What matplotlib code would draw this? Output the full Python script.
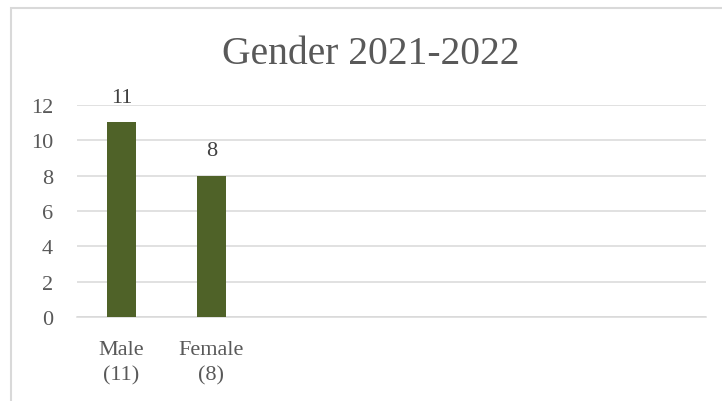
import matplotlib.pyplot as plt
from matplotlib.patches import Rectangle

categories = ["Male\n(11)", "Female\n(8)", "", "", "", "", ""]
counts = [11, 8, 0, 0, 0, 0, 0]
yticks = [0, 2, 4, 6, 8, 10, 12]

grey = "#595959"
plt.rcParams["font.family"] = ["Liberation Serif", "DejaVu Serif"]

fig = plt.figure(figsize=(7.22, 4.02), dpi=100)
ax = fig.add_axes([0.1062, 0.2082, 0.8712, 0.5289])

x = range(len(categories))
bars = ax.bar(x, counts, width=0.325, color="#4f6228", zorder=3)
for i, v in enumerate(counts[:2]):
    ax.annotate(str(v), (i, v), xytext=(0, 11), textcoords="offset points",
                ha="center", va="bottom", fontsize=16, color="#404040")

ax.set_xlim(-0.5, len(categories) - 0.5)
ax.set_ylim(0, 12)
ax.set_yticks(yticks)
ax.set_xticks(list(x))
ax.set_xticklabels(categories, fontsize=16, color=grey, linespacing=1.5)
ax.tick_params(axis="y", labelsize=16, labelcolor=grey, length=0, pad=17)
ax.tick_params(axis="x", length=0, pad=16)
ax.grid(axis="y", color="#d9d9d9", linewidth=1.1, zorder=0)
for s in ["top", "right", "left"]:
    ax.spines[s].set_visible(False)
ax.spines["bottom"].set_color("#d9d9d9")
ax.spines["bottom"].set_linewidth(1.1)

fig.text(371 / 722, 1 - 64 / 402, "Gender 2021-2022", ha="center",
         va="baseline", fontsize=28.5, color=grey)

# chart frame, runs off the right and bottom edges
fig.patches.append(Rectangle((11 / 722, -0.1), 1.2, 1 - 9 / 402 + 0.1,
                             transform=fig.transFigure, fill=False,
                             edgecolor="#d9d9d9", linewidth=1.5))

fig.savefig("out.png", dpi=100)
